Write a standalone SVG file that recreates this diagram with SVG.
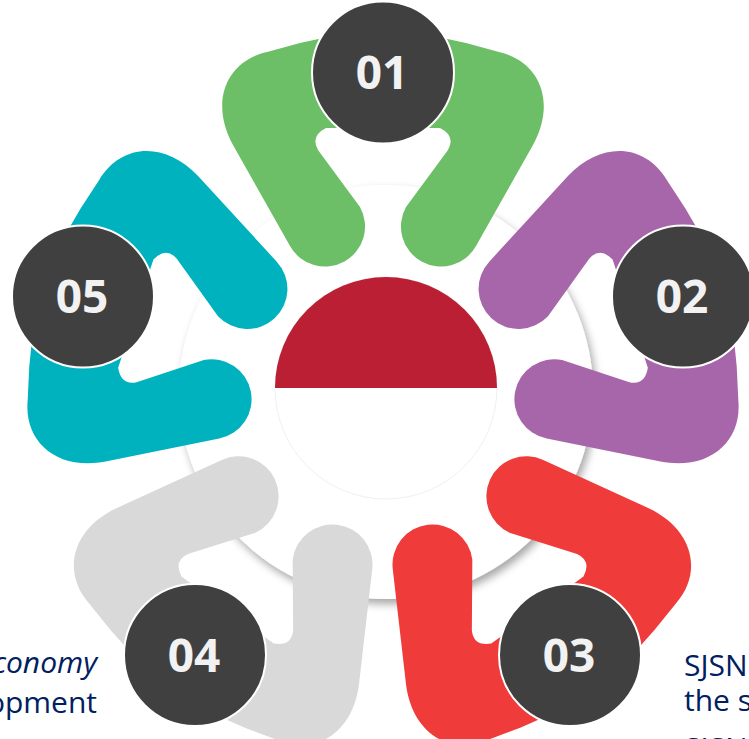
<svg xmlns="http://www.w3.org/2000/svg" width="749" height="739" viewBox="0 0 749 739">
  <defs>
    <filter id="shadow" x="-20%" y="-20%" width="140%" height="140%">
      <feDropShadow dx="3" dy="5" stdDeviation="4" flood-color="#000" flood-opacity="0.35"/>
    </filter>
    <path id="horseshoe" d="M 383,25 L 300,43 L 267,52 C 227,61 209,101 233,145 L 290,246 A 40 40 0 0 0 360,207 L 318,150 Q 310,136 326,128 L 440,128 Q 456,136 448,150 L 406,207 A 40 40 0 0 0 476,246 L 533,145 C 557,101 539,61 499,52 L 466,43 Z"/>
  </defs>
  <style>
    .num { font-family: "Open Sans", "Noto Sans", sans-serif; font-weight: 700; font-size: 46px; fill: #F2F2F2; text-anchor: middle; }
    .badge { fill: #404040; stroke: #ffffff; stroke-width: 2; }
    .body { font-family: "Open Sans", "Noto Sans", sans-serif; font-size: 30px; fill: #002060; }
  </style>
  <rect width="749" height="739" fill="#ffffff"/>

  <g id="hub">
    <circle cx="386" cy="392" r="207" fill="#ffffff" filter="url(#shadow)"/>
    <circle cx="386" cy="388" r="111" fill="#ffffff" stroke="#f0f0f0" stroke-width="1"/>
    <path d="M 275,388 A 111 111 0 0 1 497,388 Z" fill="#BA1F34"/>
  </g>

  <g id="node01">
    <use href="#horseshoe" fill="#6DBF67"/>
    <circle class="badge" cx="383" cy="72.5" r="71"/>
    <text class="num" x="382" y="89">01</text>
  </g>
  <g id="node02">
    <use href="#horseshoe" fill="#A866AA" transform="translate(683,296.5) rotate(72) translate(-383,-72.5)"/>
    <circle class="badge" cx="683" cy="296.5" r="71"/>
    <text class="num" x="682" y="313">02</text>
  </g>
  <g id="node03">
    <use href="#horseshoe" fill="#EF3C3B" transform="translate(570,655) rotate(144) translate(-383,-72.5)"/>
    <circle class="badge" cx="570" cy="655" r="71"/>
    <text class="num" x="569" y="672">03</text>
  </g>
  <g id="node04">
    <use href="#horseshoe" fill="#D9D9D9" transform="translate(195,655) rotate(216) translate(-383,-72.5)"/>
    <circle class="badge" cx="195" cy="655" r="71"/>
    <text class="num" x="194" y="672">04</text>
  </g>
  <g id="node05">
    <use href="#horseshoe" fill="#00B2BE" transform="translate(83,296.5) rotate(288) translate(-383,-72.5)"/>
    <circle class="badge" cx="83" cy="296.5" r="71"/>
    <text class="num" x="82" y="313">05</text>
  </g>

  <g id="connectors"></g>

  <g id="text-left">
    <text class="body" x="97" y="673" text-anchor="end" font-style="italic">conomy</text>
    <text class="body" x="97" y="713" text-anchor="end">opment</text>
  </g>
  <g id="text-right">
    <text class="body" x="684" y="676">SJSN</text>
    <text class="body" x="684" y="711">the s</text>
    <text class="body" x="684" y="759">SJSN</text>
  </g>
</svg>
